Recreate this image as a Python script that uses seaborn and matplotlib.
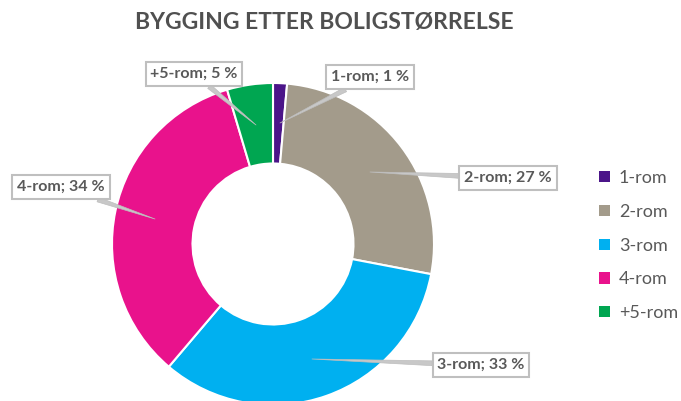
import matplotlib
matplotlib.use("Agg")
import matplotlib.pyplot as plt
from matplotlib.patches import Patch
import seaborn as sns

categories = ["1-rom", "2-rom", "3-rom", "4-rom", "+5-rom"]
shares = [1.4, 26.6, 33.2, 34.2, 4.6]
colors = ["#4b1589", "#a39b8b", "#00b0f0", "#e9128c", "#00a651"]
title = "BYGGING ETTER BOLIGSTØRRELSE"

# layout (pixel coordinates, y measured from top)
W, H = 681, 401
center_px = (273, 244)
radius = 161
hole = 0.5
label_pos = [(370, 77), (508, 178), (481, 365), (61, 187), (194, 74)]
tip_pos = [(280, 123), (370, 172), (312, 359), (155, 219), (256, 125)]

sns.set_theme(style="white")
plt.rcParams["font.family"] = ["Lato", "DejaVu Sans"]
palette = sns.color_palette(colors)
grey = "#595959"

fig = plt.figure(figsize=(W / 100, H / 100), dpi=100)
ax = fig.add_axes([0, 0, 1, 1])

ax.pie(shares, colors=palette, startangle=90, counterclock=False,
       center=(center_px[0], H - center_px[1]), radius=radius,
       wedgeprops=dict(width=radius * (1 - hole), edgecolor="white", linewidth=1.5),
       frame=True)
ax.set_xlim(0, W)
ax.set_ylim(0, H)
ax.set_aspect("equal")
ax.axis("off")

for cat, v, (lx, ly), (tx, ty) in zip(categories, shares, label_pos, tip_pos):
    ax.annotate(f"{cat}; {round(v)} %", xy=(tx, H - ty), xytext=(lx, H - ly),
                ha="center", va="center", fontsize=11.5, fontweight="bold", color=grey,
                bbox=dict(boxstyle="square,pad=0.3", fc="white", ec="#bfbfbf", lw=1.5),
                arrowprops=dict(arrowstyle="wedge,tail_width=0.3", fc="#c8c8c8",
                                ec="#bdbdbd", lw=0.5, shrinkA=0, shrinkB=0),
                zorder=5)

fig.text(324 / W, 1 - 22 / H, title, ha="center", va="center",
         fontsize=16.5, fontweight="bold", color="#505050")

handles = [Patch(facecolor=c, edgecolor="none") for c in palette]
leg = ax.legend(handles, categories, loc="upper left",
                bbox_to_anchor=(592 / W, 1 - 163 / H), frameon=False,
                fontsize=13, labelcolor=grey, handlelength=0.58, handleheight=0.58,
                handletextpad=0.5, labelspacing=0.98, borderaxespad=0)

fig.savefig("out.png", dpi=100, facecolor="white")
